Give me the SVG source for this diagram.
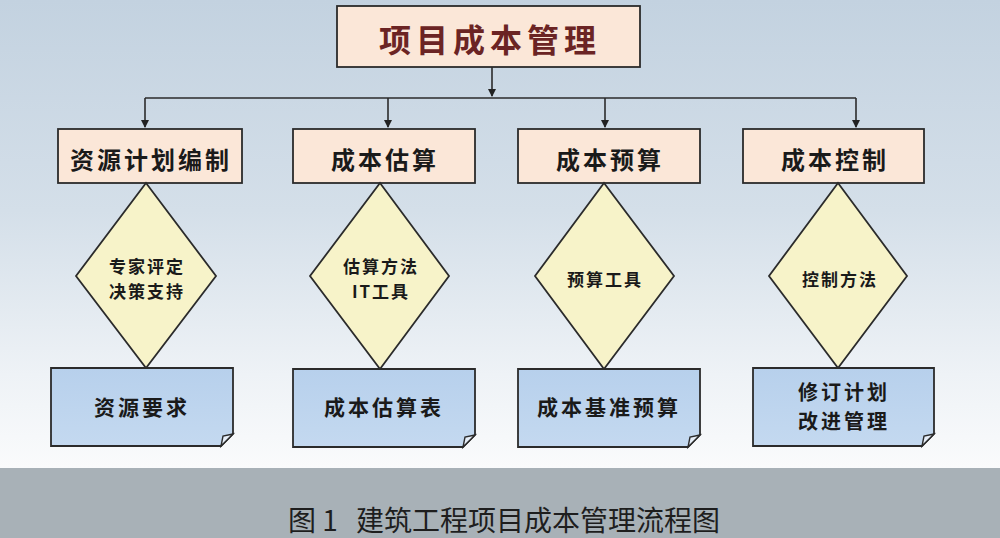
<svg xmlns="http://www.w3.org/2000/svg" width="1000" height="538" viewBox="0 0 1000 538">
  <defs>
    <linearGradient id="bg" x1="0" y1="0" x2="0" y2="1">
      <stop offset="0" stop-color="#c3d2e0"/>
      <stop offset="0.45" stop-color="#d4dfe9"/>
      <stop offset="0.8" stop-color="#eef2f6"/>
      <stop offset="1" stop-color="#fafbfc"/>
    </linearGradient>
    <linearGradient id="docfill" x1="0" y1="0" x2="0" y2="1">
      <stop offset="0" stop-color="#b7d0ec"/>
      <stop offset="1" stop-color="#c4d9f0"/>
    </linearGradient>
    <marker id="arrd" markerWidth="8" markerHeight="8" refX="7" refY="4" orient="auto" markerUnits="userSpaceOnUse" viewBox="0 0 8 8">
      <path d="M0,0 L8,4 L0,8 Z" fill="#222"/>
    </marker>
  </defs>
  <style>
    .box { fill: #fbe7d8; stroke: #2b2b2b; stroke-width: 1.8; }
    .dia { fill: #f7f3c9; stroke: #2b2b2b; stroke-width: 1.8; }
    .doc { fill: url(#docfill); stroke: #2b2b2b; stroke-width: 1.8; }
    .fold { fill: #e6eef8; stroke: #2b2b2b; stroke-width: 1.4; }
    .conn { fill: none; stroke: #2b2b2b; stroke-width: 1.6; }
    .t { font-family: "Noto Sans CJK SC", "Noto Sans", sans-serif; fill: #1a1a1a; text-anchor: middle; dominant-baseline: central; font-weight: 700; }
    .title { font-size: 32px; fill: #6b2424; letter-spacing: 5px; }
    .lbl { font-size: 24px; letter-spacing: 3px; }
    .dtx { font-size: 17px; letter-spacing: 2px; }
    .otx { font-size: 21px; letter-spacing: 3px; }
    .otx2 { font-size: 20px; letter-spacing: 3px; }
    .cap { font-family: "Noto Sans CJK SC", "Liberation Sans", sans-serif; font-size: 28px; fill: #1e1e1e; text-anchor: middle; dominant-baseline: central; }
  </style>

  <rect x="0" y="0" width="1000" height="468" fill="url(#bg)"/>
  <rect x="0" y="468" width="1000" height="70" fill="#a8b1b7"/>

  <g id="connectors">
    <path class="conn" d="M492,67 V96" marker-end="url(#arrd)"/>
    <path class="conn" d="M145,98 H856"/>
    <path class="conn" d="M145,98 V127" marker-end="url(#arrd)"/>
    <path class="conn" d="M388,98 V127" marker-end="url(#arrd)"/>
    <path class="conn" d="M605,98 V127" marker-end="url(#arrd)"/>
    <path class="conn" d="M856,98 V127" marker-end="url(#arrd)"/>
  </g>

  <g id="node-root">
    <rect class="box" x="337" y="6" width="303" height="61"/>
    <text class="t title" x="490" y="38">项目成本管理</text>
  </g>

  <g id="node-plan">
    <rect class="box" x="58" y="129" width="184" height="54"/>
    <text class="t lbl" x="151" y="158">资源计划编制</text>
  </g>
  <g id="node-estimate">
    <rect class="box" x="293" y="129" width="182" height="54"/>
    <text class="t lbl" x="385" y="158">成本估算</text>
  </g>
  <g id="node-budget">
    <rect class="box" x="518" y="129" width="182" height="54"/>
    <text class="t lbl" x="610" y="158">成本预算</text>
  </g>
  <g id="node-control">
    <rect class="box" x="743" y="129" width="181" height="54"/>
    <text class="t lbl" x="835" y="158">成本控制</text>
  </g>

  <g id="dia-plan">
    <polygon class="dia" points="146,183 216,276 146,368 76,276"/>
    <text class="t dtx" x="147" y="265">专家评定</text>
    <text class="t dtx" x="147" y="290">决策支持</text>
  </g>
  <g id="dia-estimate">
    <polygon class="dia" points="380,183 449,276 380,369 310,276"/>
    <text class="t dtx" x="381" y="265">估算方法</text>
    <text class="t dtx" x="381" y="290">IT工具</text>
  </g>
  <g id="dia-budget">
    <polygon class="dia" points="604,183 674,276 604,369 535,276"/>
    <text class="t dtx" x="605" y="278">预算工具</text>
  </g>
  <g id="dia-control">
    <polygon class="dia" points="838,183 907,276 838,368 769,276"/>
    <text class="t dtx" x="840" y="278">控制方法</text>
  </g>

  <g id="doc-plan">
    <path class="doc" d="M51,368 H233 V434 L221,446 H51 Z"/>
    <path class="fold" d="M233,434 L221,446 L223,436 Z"/>
    <text class="t otx" x="142" y="406">资源要求</text>
  </g>
  <g id="doc-estimate">
    <path class="doc" d="M293,369 H475 V435 L463,447 H293 Z"/>
    <path class="fold" d="M475,435 L463,447 L465,437 Z"/>
    <text class="t otx" x="384" y="406">成本估算表</text>
  </g>
  <g id="doc-budget">
    <path class="doc" d="M518,369 H700 V435 L688,447 H518 Z"/>
    <path class="fold" d="M700,435 L688,447 L690,437 Z"/>
    <text class="t otx" x="609" y="406">成本基准预算</text>
  </g>
  <g id="doc-control">
    <path class="doc" d="M753,368 H934 V434 L922,446 H753 Z"/>
    <path class="fold" d="M934,434 L922,446 L924,436 Z"/>
    <text class="t otx2" x="844" y="391">修订计划</text>
    <text class="t otx2" x="844" y="420">改进管理</text>
  </g>

  <text class="cap" x="504" y="519">图 1<tspan dx="18">建筑工程项目成本管理流程图</tspan></text>
</svg>
